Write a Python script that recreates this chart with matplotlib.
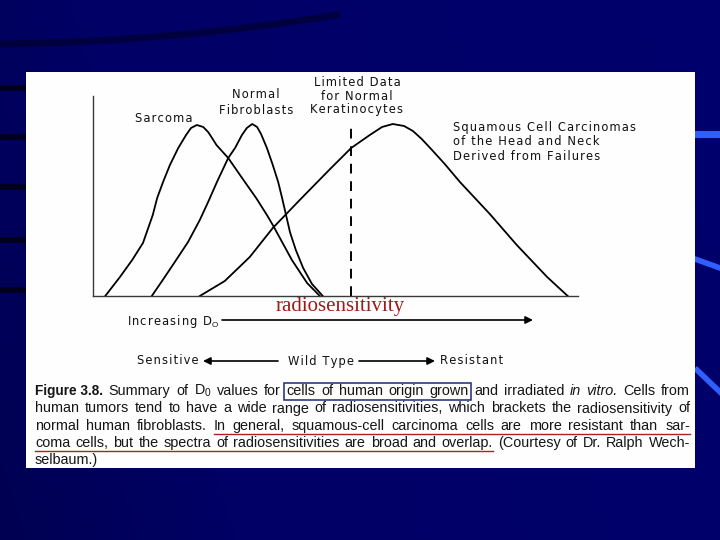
import matplotlib
matplotlib.use("Agg")
import numpy as np
import matplotlib.pyplot as plt
from matplotlib import font_manager
from matplotlib.colors import LinearSegmentedColormap
from matplotlib.patches import Rectangle

# ============================== DATA ==============================
# D0 axis in arbitrary units (0 = y-axis), y = relative frequency (0..1)

sarcoma_x = [0.25, 0.55, 0.80, 1.02, 1.22, 1.31, 1.43, 1.57, 1.74, 1.90,
             2.00, 2.12, 2.25, 2.35, 2.43, 2.52, 2.76, 3.10, 3.33, 3.55,
             3.67, 4.06, 4.37, 4.63]
sarcoma_y = [0.00, 0.095, 0.18, 0.265, 0.405, 0.49, 0.57, 0.655, 0.74, 0.805,
             0.84, 0.855, 0.845, 0.82, 0.79, 0.755, 0.69, 0.57, 0.49, 0.405,
             0.355, 0.18, 0.065, 0.00]

fibro_x = [1.20, 1.41, 1.67, 1.94, 2.18, 2.35, 2.53, 2.76, 2.90, 3.04,
           3.14, 3.25, 3.35, 3.43, 3.55, 3.67, 3.78, 3.86, 3.94, 4.02,
           4.14, 4.29, 4.47, 4.69]
fibro_y = [0.00, 0.075, 0.17, 0.27, 0.38, 0.47, 0.57, 0.69, 0.74, 0.805,
           0.84, 0.86, 0.845, 0.81, 0.74, 0.655, 0.57, 0.49, 0.405, 0.32,
           0.23, 0.14, 0.06, 0.00]

squam_x = [2.18, 2.69, 3.20, 3.67, 4.22, 4.84, 5.27, 5.65, 5.90, 6.12,
           6.35, 6.53, 6.71, 6.92, 7.18, 7.49, 8.10, 8.65, 9.27, 9.69]
squam_y = [0.00, 0.075, 0.195, 0.34, 0.48, 0.635, 0.74, 0.805, 0.845, 0.86,
           0.85, 0.825, 0.785, 0.73, 0.66, 0.57, 0.41, 0.255, 0.095, 0.00]

kerat_x = 5.27          # limited data for normal keratinocytes
kerat_top = 0.855

curve_labels = ["Sarcoma", ["Normal", "Fibroblasts"],
                ["Limited Data", "for Normal", "Keratinocytes"],
                ["Squamous Cell Carcinomas", "of the Head and Neck",
                 "Derived from Failures"]]

caption = [
    [("Figure 3.8.", "b"), ("Summary", ""), ("of", ""), ("D$_0$", ""),
     ("values", ""), ("for", ""), ("cells", "box"), ("of", "box"),
     ("human", "box"), ("origin", "box"), ("grown", "box"), ("and", ""),
     ("irradiated", ""), ("in", "i"), ("vitro.", "i"), ("Cells", ""),
     ("from", "")],
    "human tumors tend to have a wide range of radiosensitivities, which "
    "brackets the radiosensitivity of",
    "normal human fibroblasts. |In general, squamous-cell carcinoma cells "
    "are more resistant than sar-|",
    "|coma cells, but the spectra of radiosensitivities are broad and "
    "overlap.| (Courtesy of Dr. Ralph Wech-",
    "selbaum.)",
]

# =================================================================

names = {f.name for f in font_manager.fontManager.ttflist}
CAP_FONT = "Liberation Sans Narrow" if "Liberation Sans Narrow" in names \
    else "Liberation Sans"

plt.rcParams["mathtext.fontset"] = "custom"
plt.rcParams["mathtext.rm"] = CAP_FONT
plt.rcParams["mathtext.it"] = CAP_FONT + ":italic"
plt.rcParams["mathtext.bf"] = CAP_FONT + ":bold"

fig = plt.figure(figsize=(7.2, 5.4), dpi=100)
renderer = fig.canvas.get_renderer()

# slide background, pixel coordinates
bg = fig.add_axes([0, 0, 1, 1], zorder=0)
bg.set_xlim(0, 720)
bg.set_ylim(540, 0)
bg.axis("off")
cmap = LinearSegmentedColormap.from_list("slide", ["#00003a", "#000066", "#00006c"])
gx, gy = np.meshgrid(np.linspace(0, 1, 200), np.linspace(0, 1, 150))
grad = np.clip(0.35 + 0.65 * gx + 0.15 * (0.5 - gy), 0, 1)
bg.imshow(grad, extent=[0, 720, 540, 0], cmap=cmap, aspect="auto",
          vmin=0, vmax=1, zorder=0)

# dark swoosh at the top and stripes on the left
sx = np.linspace(0, 340, 50)
bg.plot(sx, 44 - 0.00022 * sx ** 2 - 0.012 * sx, color="#000022", lw=5,
        alpha=0.55, zorder=0.5, solid_capstyle="butt")
for yy in [88, 137, 187, 240, 290]:
    bg.plot([0, 26], [yy, yy], color="#00001a", lw=4, zorder=0.5)
# bright streaks on the right
bg.plot([695, 720], [134, 134], color="#2f5fff", lw=5, zorder=0.5)
bg.plot([695, 720], [259, 268], color="#2f5fff", lw=4, zorder=0.5)
bg.plot([697, 720], [370, 392], color="#2f5fff", lw=4, zorder=0.5)

# white figure panel
bg.add_patch(Rectangle((26, 72), 669, 396, facecolor="#fefefe",
                       edgecolor="none", zorder=1))

# chart
ax = fig.add_axes([93 / 720, (540 - 296) / 540, 485 / 720, 200 / 540],
                  zorder=2)
ax.patch.set_alpha(0)
ax.set_xlim(0, 9.9)
ax.set_ylim(0, 1)
for s in ["top", "right"]:
    ax.spines[s].set_visible(False)
for s in ["left", "bottom"]:
    ax.spines[s].set_color("#3a3a3a")
    ax.spines[s].set_linewidth(1.0)
ax.set_xticks([])
ax.set_yticks([])

line_kw = dict(color="black", lw=1.3, solid_joinstyle="round")
ax.plot(sarcoma_x, sarcoma_y, **line_kw)
ax.plot(fibro_x, fibro_y, **line_kw)
ax.plot(squam_x, squam_y, **line_kw)
ax.vlines(kerat_x, 0, kerat_top, colors="black", lw=1.4,
          linestyles=(0, (5, 4)))


def spaced(s):
    # the scanned labels are letter-spaced
    return "\u200a".join(s)


# chart labels
lab = dict(family="DejaVu Sans", fontsize=8.3, color="#111111", zorder=3)
bg.text(164, 119, spaced(curve_labels[0]), ha="center", va="center", **lab)
for i, s in enumerate(curve_labels[1]):
    bg.text(256, 95 + 15 * i, spaced(s), ha="center", va="center", **lab)
for i, s in enumerate(curve_labels[2]):
    bg.text(357, 82 + 14 * i, spaced(s), ha="center", va="center", **lab)
for i, s in enumerate(curve_labels[3]):
    bg.text(453, 127 + 14.5 * i, spaced(s), ha="left", va="center", **lab)

bg.text(340, 306, "radiosensitivity", ha="center", va="center",
        family="Liberation Serif", fontsize=15, color="#a01818", zorder=4)

bg.text(127, 321, spaced("Increasing D") + r"$_{\mathrm{O}}$", ha="left",
        va="center", **lab)
arr = dict(arrowstyle="-|>", color="black", lw=1.2, mutation_scale=11,
           shrinkA=0, shrinkB=0)
bg.annotate("", xy=(533, 320), xytext=(222, 320), arrowprops=arr, zorder=3)
bg.text(137, 361, spaced("Sensitive"), ha="left", va="center", **lab)
bg.text(321, 361, spaced("Wild Type"), ha="center", va="center", **lab)
bg.text(440, 361, spaced("Resistant"), ha="left", va="center", **lab)
bg.annotate("", xy=(203, 361), xytext=(278, 361), arrowprops=arr, zorder=3)
bg.annotate("", xy=(435, 361), xytext=(359, 361), arrowprops=arr, zorder=3)

# caption, justified word by word
X0, X1 = 35, 690
baselines = [395, 412.5, 430, 447, 464]

# pick the size so the longest plain line fits like in the scan
probe = bg.text(0, 0, caption[1], family=CAP_FONT, fontsize=10)
CAP_SIZE = 10 * 632 / probe.get_window_extent(renderer).width
probe.remove()


def lay_line(words, y, justify):
    objs = []
    for txt, st in words:
        kw = dict(family=CAP_FONT, fontsize=CAP_SIZE, color="#151515",
                  ha="left", va="baseline", zorder=3)
        if st == "b":
            kw["weight"] = "bold"
            kw["family"] = "Liberation Sans"
            kw["fontsize"] = CAP_SIZE * 0.95
        if st == "i":
            kw["style"] = "italic"
        objs.append(bg.text(X0, y, txt, **kw))
    widths = [t.get_window_extent(renderer).width for t in objs]
    if justify:
        gap = (X1 - X0 - sum(widths)) / (len(objs) - 1)
    else:
        gap = CAP_SIZE * 0.3
    x = X0
    spans = []
    for t, w in zip(objs, widths):
        t.set_x(x)
        spans.append((x, x + w))
        x += w + gap
    return spans


for k, line in enumerate(caption):
    y = baselines[k]
    if isinstance(line, list):
        spans = lay_line(line, y, True)
        boxed = [sp for sp, (_, st) in zip(spans, line) if st == "box"]
        bx0, bx1 = boxed[0][0] - 3, boxed[-1][1] + 2
        bg.add_patch(Rectangle((bx0, y - 12.5), bx1 - bx0, 17.5, fill=False,
                               edgecolor="#1c2a70", lw=1.1, zorder=4))
        continue
    # words between | marks are underlined in red
    words, flags = [], []
    for j, part in enumerate(line.split("|")):
        for w in part.split():
            words.append((w, ""))
            flags.append(j % 2 == 1)
    spans = lay_line(words, y, k < len(caption) - 1)
    ul = [sp for sp, f in zip(spans, flags) if f]
    if ul:
        bg.plot([ul[0][0], ul[-1][1]], [y + 4, y + 4], color="#b02020",
                lw=1.0, zorder=4)

fig.savefig("out.png", dpi=100)
